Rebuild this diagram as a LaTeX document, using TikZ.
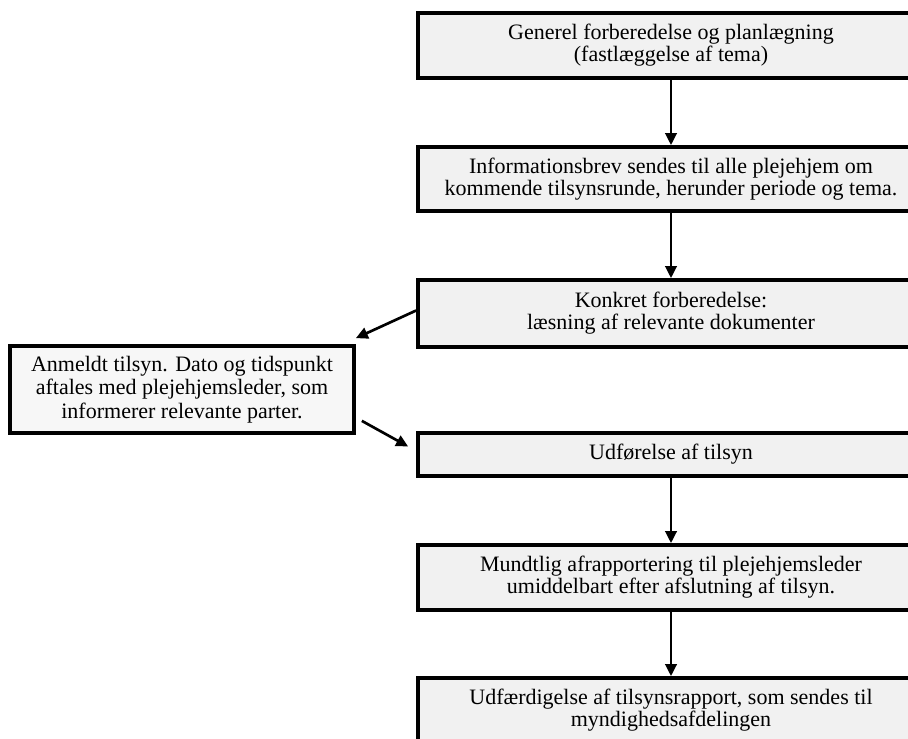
\documentclass[tikz,border=0pt]{standalone}
\usepackage{fontspec}
\setmainfont{Liberation Serif}
\usepackage{tikz}
\usetikzlibrary{calc,arrows.meta}

\begin{document}
\begin{tikzpicture}[x=0.75pt,y=-0.75pt,
    stepbox/.style={draw=black,line width=2.8pt,fill=gray!11,align=center,
      font=\fontsize{16.5}{16.5}\selectfont,inner sep=2pt},
    mainbox/.style={stepbox,minimum width=379.5pt},
    arr/.style={-{Triangle[length=9pt,width=8.5pt]},line width=2pt}]
  % Frame
  \useasboundingbox (0,0) rectangle (908,739);
  \clip (0,0) rectangle (908,739);

  % Main column of steps
  \node[mainbox,minimum height=48.75pt] (gen) at (671,45.5)
    {Generel forberedelse og planlægning\\(fastlæggelse af tema)};
  \node[mainbox,minimum height=48pt] (info) at (671,179)
    {Informationsbrev sendes til alle plejehjem om\\kommende tilsynsrunde, herunder periode og tema.};
  \node[mainbox,minimum height=50.25pt] (konkret) at (671,313.5)
    {Konkret forberedelse:\\læsning af relevante dokumenter};
  \node[mainbox,minimum height=32.25pt] (udf) at (671,454.5)
    {Udførelse af tilsyn};
  \node[mainbox,minimum height=48.75pt] (mundt) at (671,577.5)
    {Mundtlig afrapportering til plejehjemsleder\\umiddelbart efter afslutning af tilsyn.};
  \node[mainbox,minimum height=48.75pt] (rapport) at (671,710.5)
    {Udfærdigelse af tilsynsrapport, som sendes til\\myndighedsafdelingen};

  % Side step
  \node[stepbox,fill=gray!6,minimum width=258pt,minimum height=65.25pt,
    font=\fontsize{16.5}{17.5}\selectfont] (anmeldt) at (182,389.5)
    {Anmeldt tilsyn. Dato og tidspunkt\\aftales med plejehjemsleder, som\\informerer relevante parter.};

  % Arrows
  \draw[arr] (gen) -- (info);
  \draw[arr] (info) -- (konkret);
  \draw[arr] (udf) -- (mundt);
  \draw[arr] (mundt) -- (rapport);
  \draw[arr] ($(konkret.west)+(0,-3)$) -- ($(anmeldt.north east)+(0,-6)$);
  \draw[arr] ($(anmeldt.south east)+(6,-14)$) -- ($(udf.west)+(-8,-8)$);
\end{tikzpicture}
\end{document}
